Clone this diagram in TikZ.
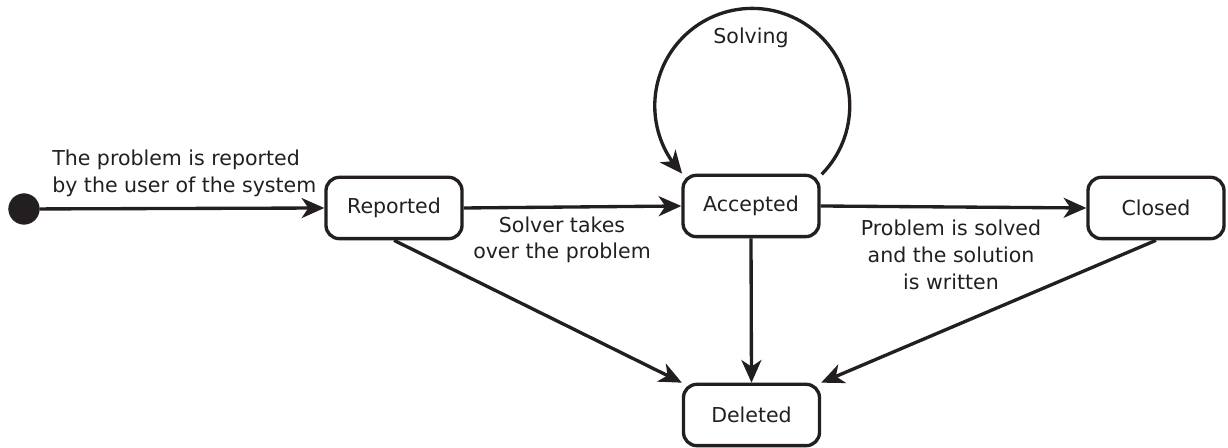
\documentclass[tikz,border=0pt]{standalone}
\usepackage{fontspec}
\setmainfont{DejaVu Sans}
\usetikzlibrary{arrows.meta,bending}
\definecolor{ink}{HTML}{231F20}
\begin{document}
\begin{tikzpicture}[x=0.75pt,y=0.75pt,
  every node/.style={font=\fontsize{15.4pt}{20pt}\selectfont, text=ink},
  state/.style={draw=ink, line width=2.5pt, rounded corners=10pt,
    minimum width=102pt, minimum height=46pt, inner sep=0pt},
  initial/.style={circle, fill=ink, draw=ink, minimum size=23pt, inner sep=0pt},
  trans/.style={draw=ink, line width=2.5pt,
    -{Stealth[length=17pt,width=15pt,inset=5pt,flex]}},
  lbl/.style={inner sep=0pt, align=center}]
\useasboundingbox (0,0) rectangle (1228,448);

% states
\node[initial] (init) at (24,239) {};
\node[state] (rep) at (394,240) {Reported};
\node[state] (acc) at (751,242) {Accepted};
\node[state] (clo) at (1156,240) {Closed};
\node[state] (del) at (751.5,33) {Deleted};

% transitions
\draw[trans] (init) -- (rep.west);
\draw[trans] (rep.east) -- (acc.west);
\draw[trans] (acc.east) -- (clo.west);
\draw[trans] (rep.south) -- (del.north west);
\draw[trans] (acc.south) -- (del.north);
\draw[trans] (clo.south) -- (del.north east);
% self loop on Accepted
\draw[trans] ([xshift=0.75pt,yshift=-0.5pt]acc.north east)
  arc[start angle=-44.6, end angle=224, radius=97.5];

% labels
\node[lbl, align=left, anchor=west] (l1) at (52,274.5)
  {The problem is reported\\by the user of the system};
\node[lbl] (l2) at (562,208) {Solver takes\\over the problem};
\node[lbl] (l3) at (951,193) {Problem is solved\\and the solution\\is written};
\node[lbl] (l4) at (751,410) {Solving};
\end{tikzpicture}
\end{document}
